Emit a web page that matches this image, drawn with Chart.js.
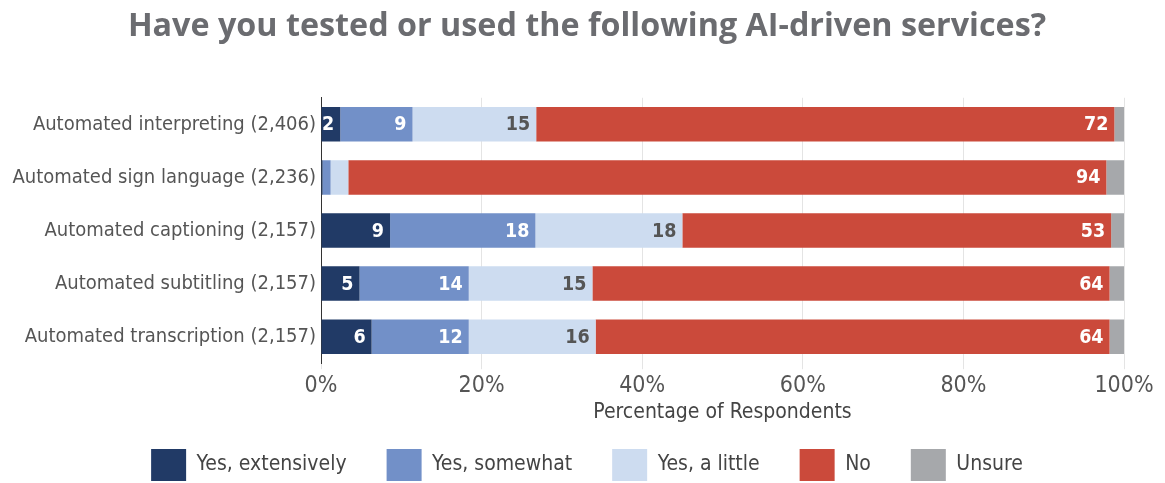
<!DOCTYPE html>
<html>
<head>
<meta charset="utf-8">
<script src="https://cdn.jsdelivr.net/npm/chart.js@4"></script>
<style>
    body { margin: 0; background: #fff; }
    #wrap { width: 1165px; height: 483px; }
</style>
</head>
<body>
<div id="wrap"><canvas id="myChart" width="1165" height="483"></canvas></div>
<script>
let categories = ['Automated interpreting (2,406)', 'Automated sign language (2,236)', 'Automated captioning (2,157)', 'Automated subtitling (2,157)', 'Automated transcription (2,157)'];
let seriesNames = ['Yes, extensively', 'Yes, somewhat', 'Yes, a little', 'No', 'Unsure'];
let extensively = [2.4, 0.2, 8.6, 4.8, 6.3];
let somewhat = [9.0, 1.0, 18.1, 13.6, 12.1];
let little = [15.4, 2.2, 18.3, 15.4, 15.8];
let no = [72.0, 94.4, 53.4, 64.4, 64.0];
let unsure = [1.2, 2.2, 1.6, 1.8, 1.8];
let xTicks = [0, 20, 40, 60, 80, 100];

let colors = ['#213a66', '#7290c8', '#cddcf0', '#cb4a3b', '#a6a8ab'];
let labelColors = ['#fff', '#fff', '#555', '#fff', null];

let narrow = '"Liberation Sans Narrow", "DejaVu Sans Condensed", "Roboto", sans-serif';

// draws the numbers inside the bars, right aligned
const barLabels = {
    id: 'barLabels',
    afterDatasetsDraw(chart) {
        const ctx = chart.ctx;
        ctx.save();
        ctx.font = 'bold 19.5px ' + narrow;
        ctx.textAlign = 'right';
        ctx.textBaseline = 'middle';
        chart.data.datasets.forEach((ds, i) => {
            if (!labelColors[i]) return;
            const meta = chart.getDatasetMeta(i);
            meta.data.forEach((bar, j) => {
                if (ds.data[j] < 2.3) return;
                ctx.fillStyle = labelColors[i];
                ctx.fillText(Math.round(ds.data[j]), bar.x - 6, bar.y + 1);
            });
        });
        ctx.restore();
    }
};

let chart = new Chart(document.getElementById('myChart').getContext('2d'), {
    type: 'bar',
    data: {
        labels: categories,
        datasets: [extensively, somewhat, little, no, unsure].map((d, i) => ({
            label: seriesNames[i],
            data: d,
            backgroundColor: colors[i],
            barPercentage: 0.65,
            categoryPercentage: 1
        }))
    },
    options: {
        indexAxis: 'y',
        responsive: false,
        animation: false,
        layout: { padding: { left: 0, right: -9, top: 4, bottom: -8 } },
        scales: {
            x: {
                stacked: true,
                min: 0,
                max: 100,
                afterBuildTicks: (scale) => { scale.ticks = xTicks.map(v => ({ value: v })) },
                afterFit: (scale) => { scale.paddingRight = 41 },
                grid: { color: '#e4e4e4', tickLength: 6 },
                border: { display: false },
                ticks: {
                    callback: (v) => v + '%',
                    color: '#555',
                    font: { size: 23, family: narrow },
                    padding: 3
                },
                title: {
                    display: true,
                    text: 'Percentage of Respondents',
                    color: '#444',
                    font: { size: 21, family: narrow },
                    padding: { top: -3, bottom: -16 }
                }
            },
            y: {
                stacked: true,
                grid: { display: false, drawTicks: false },
                border: { display: true, color: '#333', width: 1 },
                afterFit: (scale) => { scale.width = 321 },
                ticks: {
                    color: '#555',
                    font: { size: 20, family: narrow },
                    padding: 5
                }
            }
        },
        plugins: {
            title: {
                display: true,
                text: 'Have you tested or used the following AI-driven services?',
                color: '#6b6c70',
                font: { size: 32.3, weight: 'bold', family: '"Open Sans", sans-serif' },
                padding: { top: 3, bottom: 52 }
            },
            legend: {
                position: 'bottom',
                labels: {
                    boxWidth: 35,
                    boxHeight: 32,
                    padding: 40,
                    color: '#444',
                    font: { size: 21, family: narrow }
                }
            },
            tooltip: { enabled: false }
        }
    },
    plugins: [barLabels]
});
</script>
</body>
</html>
